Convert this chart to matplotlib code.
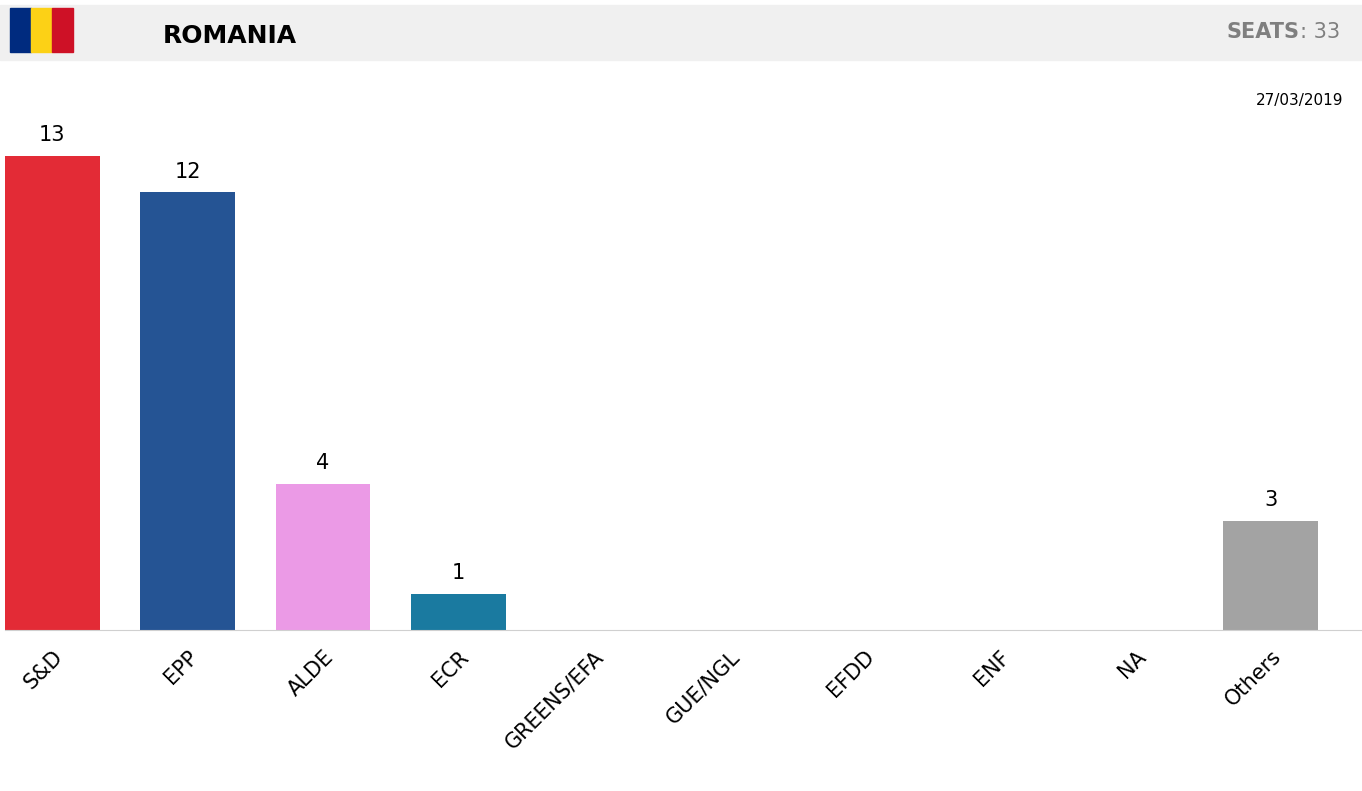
import matplotlib
matplotlib.use("Agg")
import matplotlib.pyplot as plt
from matplotlib.patches import Rectangle

categories = ["S&D", "EPP", "ALDE", "ECR", "GREENS/EFA", "GUE/NGL", "EFDD", "ENF", "NA", "Others"]
seats = [13, 12, 4, 1, 0, 0, 0, 0, 0, 3]
colors = ["#e32b36", "#255494", "#eb9ae6", "#1a7aa0", "#5cb85c", "#8b1a1a", "#3aa6a6", "#1f3a5f", "#999999", "#a3a3a3"]

W, H = 1362, 791
fig = plt.figure(figsize=(W/100, H/100), dpi=100)
fig.patch.set_facecolor("white")

# header band
fig.patches.append(Rectangle((0, 1-60/H), 1, 55/H, transform=fig.transFigure, color="#f0f0f0", zorder=0))
fx, fw = 10/W, 21/W
for i, c in enumerate(["#002b7f", "#fcd116", "#ce1126"]):
    fig.patches.append(Rectangle((fx+i*fw, 1-52/H), fw, 44/H, transform=fig.transFigure, color=c, zorder=1))
fig.text(163/W, 1-36/H, "ROMANIA", fontsize=18, fontweight="bold", va="center", ha="left", color="black")
fig.text(1338/W, 1-32/H, "SEATS", fontsize=15, fontweight="bold", color="#7f7f7f", va="center", ha="right")
fig.text(1338/W, 1-32/H, ": 33", fontsize=15, color="#7f7f7f", va="center", ha="left")
fig.texts[-2].set_position(((1338-38)/W, 1-32/H))
fig.texts[-1].set_position(((1338-38)/W, 1-32/H))
fig.text(1343/W, 1-100/H, "27/03/2019", fontsize=11, ha="right", va="center")

ax = fig.add_axes([5/W, (H-630)/H, 1313/W, 474/H])
x = list(range(len(categories)))
ax.bar(x, seats, width=0.7, color=colors)
for xi, v in zip(x, seats):
    if v > 0:
        ax.text(xi, v + 0.3, str(v), ha="center", va="bottom", fontsize=15)
ax.set_xlim(-0.35, 9.35)
ax.set_ylim(0, 13)
ax.set_yticks([])
ax.set_xticks(x)
ax.set_xticklabels(categories, rotation=45, ha="right", rotation_mode="anchor", fontsize=15)
ax.tick_params(axis="x", length=0, pad=12)
for s in ["top", "right", "left"]:
    ax.spines[s].set_visible(False)
ax.spines["bottom"].set_color("#d0d0d0")
ax.spines["bottom"].set_bounds(-0.35, 9.7)
ax.patch.set_alpha(0)
for lbl in ax.get_xticklabels():
    lbl.set_x(lbl.get_position()[0])
fig.savefig("out.png", dpi=100)
